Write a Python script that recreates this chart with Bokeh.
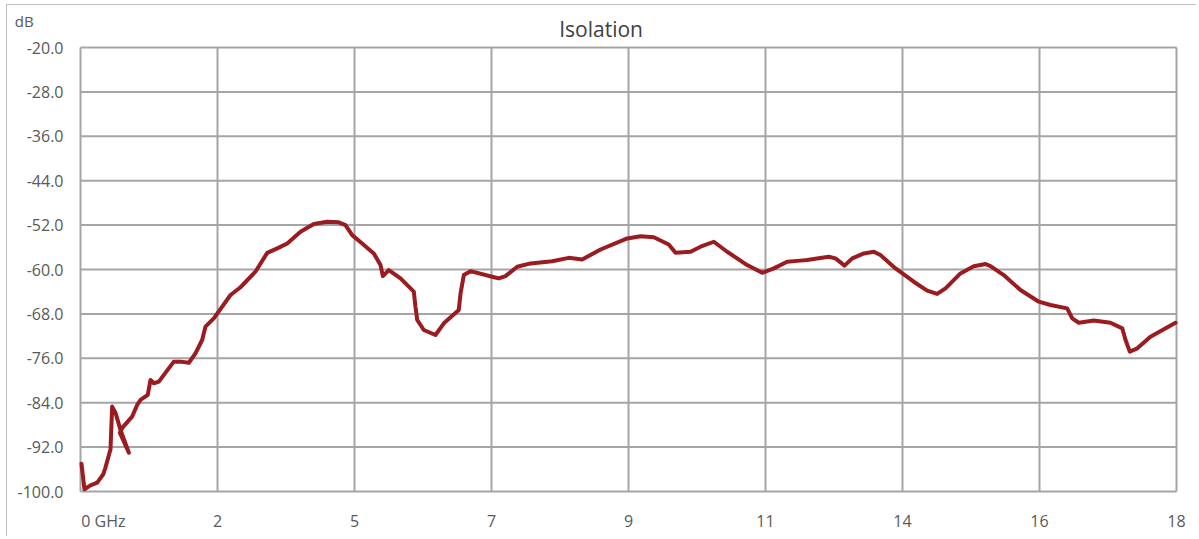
from bokeh.plotting import figure
from bokeh.models import Range1d, FixedTicker, Label
from bokeh.embed import file_html
from bokeh.resources import INLINE

# tick labels (positions 0..8 on the category-like x axis)
x_tick_labels = ["0 GHz", "2", "5", "7", "9", "11", "14", "16", "18"]
y_ticks = [-100, -92, -84, -76, -68, -60, -52, -44, -36, -28, -20]
title_text = "Isolation"
unit_text = "dB"

# isolation curve (x in tick-position units, y in dB)
iso_x = [0.007, 0.029, 0.073, 0.122, 0.166, 0.182, 0.219, 0.231, 0.255, 0.292,
         0.353, 0.287, 0.309, 0.377, 0.414, 0.438, 0.491, 0.511, 0.535, 0.572,
         0.681, 0.730, 0.791, 0.839, 0.888, 0.912, 0.973, 1.095, 1.168, 1.277,
         1.363, 1.436, 1.509, 1.606, 1.703, 1.801, 1.885, 1.934, 1.983, 2.056,
         2.141, 2.190, 2.207, 2.250, 2.336, 2.433, 2.445, 2.458, 2.506, 2.591,
         2.652, 2.761, 2.774, 2.798, 2.847, 3.005, 3.053, 3.102, 3.188, 3.285,
         3.443, 3.564, 3.662, 3.796, 3.991, 4.088, 4.185, 4.294, 4.343, 4.453,
         4.526, 4.623, 4.720, 4.866, 4.976, 5.061, 5.158, 5.255, 5.304, 5.462,
         5.511, 5.577, 5.633, 5.718, 5.791, 5.839, 5.949, 6.082, 6.180, 6.253,
         6.314, 6.423, 6.520, 6.606, 6.642, 6.739, 6.861, 6.995, 7.080, 7.202,
         7.239, 7.287, 7.397, 7.518, 7.604, 7.628, 7.659, 7.714, 7.810, 7.993]
iso_db = [-95.0, -99.6, -98.9, -98.4, -96.9, -95.7, -92.4, -84.7, -85.8, -88.9,
          -93.0, -89.4, -88.4, -86.5, -84.4, -83.5, -82.6, -79.9, -80.5, -80.2,
          -76.6, -76.6, -76.8, -75.1, -72.7, -70.3, -68.8, -64.6, -63.2, -60.4,
          -57.0, -56.2, -55.3, -53.2, -51.8, -51.4, -51.5, -52.0, -53.8, -55.3,
          -57.1, -59.2, -61.2, -60.1, -61.6, -64.0, -66.7, -69.1, -70.9, -71.8,
          -69.7, -67.3, -64.3, -61.0, -60.3, -61.3, -61.6, -61.2, -59.5, -58.9,
          -58.5, -57.9, -58.2, -56.4, -54.4, -54.0, -54.2, -55.5, -57.0, -56.8,
          -55.9, -55.0, -56.8, -59.2, -60.6, -59.8, -58.6, -58.4, -58.3, -57.7,
          -58.0, -59.3, -58.0, -57.1, -56.8, -57.4, -59.8, -62.2, -63.8, -64.4,
          -63.4, -60.7, -59.4, -59.0, -59.4, -61.0, -63.7, -65.8, -66.4, -67.0,
          -68.8, -69.6, -69.2, -69.6, -70.6, -72.7, -74.8, -74.2, -72.1, -69.6]

GRID = "#a5a5a5"
TXT = "#595959"
FONT = "Open Sans"

# canvas placement on the page (px) and where the plotting area sits inside it
CX, CY, W, H = 7, 5, 1190, 532
PX0, PX1, PY_TOP, PY_BOT = 80, 1176, 47, 491
nx = len(x_tick_labels) - 1
ppx = (PX1 - PX0) / nx                     # px per x unit
ppy = (PY_BOT - PY_TOP) / (y_ticks[-1] - y_ticks[0])   # px per dB
x0 = (CX - PX0) / ppx
x1 = (CX + W - PX0) / ppx
y0 = y_ticks[0] - (CY + H - PY_BOT) / ppy
y1 = y_ticks[0] + (PY_BOT - CY) / ppy

p = figure(width=W, height=H, output_backend="svg", toolbar_location=None,
           x_range=Range1d(x0, x1), y_range=Range1d(y0, y1), min_border=0)
p.outline_line_color = None
p.background_fill_color = "white"
p.border_fill_color = "white"
p.xgrid.visible = False
p.ygrid.visible = False

xt = list(range(len(x_tick_labels)))
# grid drawn from the tick arrays, limited to the value area
p.segment(x0=xt, y0=[y_ticks[0]] * len(xt), x1=xt, y1=[y_ticks[-1]] * len(xt),
          line_color=GRID, line_width=2)
p.segment(x0=[0] * len(y_ticks), y0=y_ticks, x1=[nx] * len(y_ticks), y1=y_ticks,
          line_color=GRID, line_width=2)

pad = "\u00a0" * 11
p.xaxis.ticker = FixedTicker(ticks=xt)
p.xaxis.major_label_overrides = {i: (pad + t if i == 0 else t)
                                 for i, t in enumerate(x_tick_labels)}
p.yaxis.ticker = FixedTicker(ticks=y_ticks)
p.yaxis.major_label_overrides = {v: f"{v:.1f}" for v in y_ticks}
p.xaxis.fixed_location = y_ticks[0]
p.yaxis.fixed_location = 0

for ax in (p.xaxis, p.yaxis):
    ax.axis_line_color = None
    ax.major_tick_line_color = None
    ax.minor_tick_line_color = None
    ax.major_tick_out = 0
    ax.major_tick_in = 0
    ax.major_label_text_font = FONT
    ax.major_label_text_font_size = "16px"
    ax.major_label_text_color = TXT
p.yaxis.major_label_standoff = 17
p.xaxis.major_label_standoff = 18

p.line(iso_x, iso_db, line_color="#9b1c20", line_width=4,
       line_join="round", line_cap="round")

p.add_layout(Label(x=3.80, y=-16.6, text=title_text, text_font=FONT,
                   text_font_size="21px", text_color="#404040",
                   text_align="center", text_baseline="middle"))
p.add_layout(Label(x=-0.48, y=-15.3, text=unit_text, text_font=FONT,
                   text_font_size="15px", text_color=TXT,
                   text_align="left", text_baseline="middle"))

p.styles = {"margin-left": "6px", "margin-top": "4px",
            "border-left": "1px solid #bfbfbf", "border-top": "1px solid #bfbfbf"}

open("out.html", "w").write(file_html(p, INLINE))
